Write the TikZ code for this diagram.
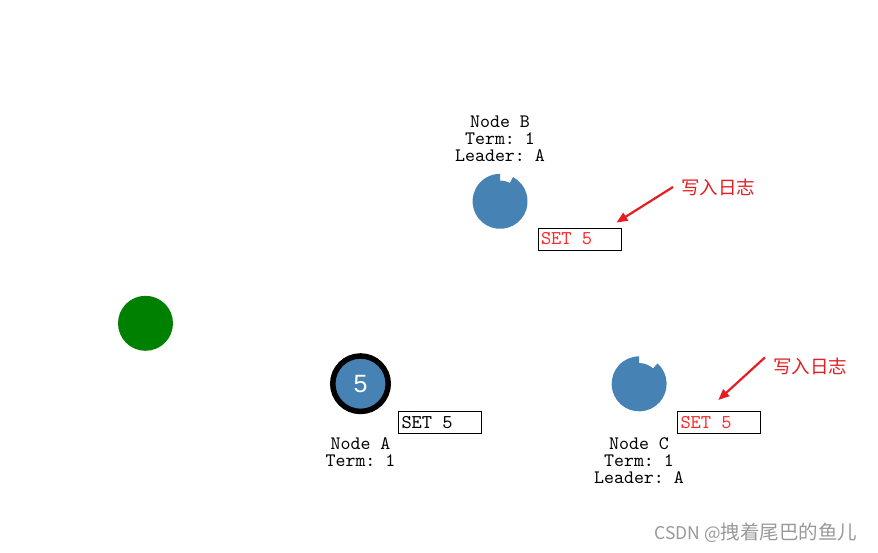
\documentclass[tikz,border=0pt]{standalone}
\usepackage{fontspec}
\usepackage{xcolor}
\usepackage{tikz}
\usetikzlibrary{arrows.meta,positioning}
\newfontfamily\codefont[WordSpace={1,0,0}]{lmmono10-regular.otf}
\newfontfamily\cjkfont{Noto Sans CJK SC}
\newfontfamily\digitfont{Liberation Sans}
\definecolor{nodeblue}{RGB}{70,130,180}
\definecolor{leadergreen}{RGB}{0,128,0}
\definecolor{notered}{RGB}{230,30,35}
\definecolor{logred}{RGB}{255,40,40}
\frenchspacing

\begin{document}
\begin{tikzpicture}[x=1pt, y=1pt,
peer/.style={circle, inner sep=0pt, minimum size=55pt},
lbl/.style={inner sep=0pt, align=center, font=\codefont\fontsize{19}{17}\selectfont},
logbox/.style={draw=black, line width=1pt, inner xsep=3pt, inner ysep=0pt, text width=77pt, minimum height=22pt, align=left, font=\codefont\fontsize{19.5}{19.5}\selectfont, execute at begin node={\spaceskip=0pt\relax}},
note/.style={inner xsep=8pt, inner ysep=0pt, text=notered, font=\cjkfont\fontsize{18.5}{18.5}\selectfont},
arrow/.style={-{Triangle[length=11pt,width=9pt]}, line width=2.2pt, notered}
]
\useasboundingbox (0,0) rectangle (878,-552);

% peers
\node[peer, fill=leadergreen] (g) at (145.5,-323.3) {};
\node[peer, fill=nodeblue, draw=black, line width=5.5pt, minimum size=55.5pt, text=white, font=\digitfont\fontsize{25}{25}\selectfont] (a) at (360.5,-383.7) {5};
\node[peer] (b) at (500,-201.5) {};
\node[peer] (c) at (639,-384) {};
\foreach \n/\ang in {b/62, c/48} {
  \fill[nodeblue] (\n.center) -- (\n.\ang) arc[start angle=\ang, end angle=-270, radius=27.5] -- cycle;
  \fill[nodeblue] (\n.center) circle[radius=21];
}

\node[lbl, below=23pt of a] (la) {Node A\\Term: 1};
\node[lbl, above=12.3pt of b] (lb) {Node B\\Term: 1\\Leader: A};
\node[lbl, below=25.7pt of c] (lc) {Node C\\Term: 1\\Leader: A};

% log entries
\node[logbox] (sa) at (440,-422.5) {SET 5};
\node[logbox, text=logred] (sb) at (579.5,-239) {SET 5};
\node[logbox, text=logred] (sc) at (719,-422.5) {SET 5};

\node[note, anchor=west] (wb) at (673,-187) {写入日志};
\node[note, anchor=west] (wc) at (765,-366) {写入日志};
\coordinate (tb) at ([shift={(-5,5)}]sb.north east);
\coordinate (tc) at ([shift={(-0.7,11)}]sc.north);
\draw[arrow] (wb.west) -- (tb);
\draw[arrow] (wc.north west) -- (tc);

\node[anchor=east, text=black!40, font=\cjkfont\fontsize{19.5}{19.5}\selectfont] (wm) at (861,-533) {{\fontsize{17.5}{17.5}\selectfont CSDN @}拽着尾巴的鱼儿};
\end{tikzpicture}
\end{document}
